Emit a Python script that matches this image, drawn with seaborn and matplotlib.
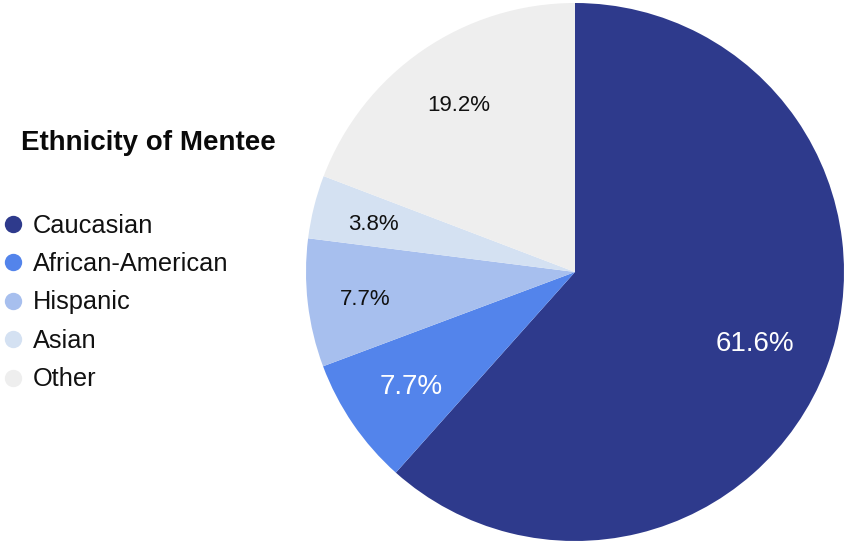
import numpy as np
import matplotlib
matplotlib.use("Agg")
import matplotlib.pyplot as plt
from matplotlib.lines import Line2D
import seaborn as sns

# Mentee ethnicity breakdown (percent)
categories = ["Caucasian", "African-American", "Hispanic", "Asian", "Other"]
shares = [61.6, 7.7, 7.7, 3.8, 19.2]
colors = ["#2E3A8C", "#5384EB", "#A7BFEE", "#D4E1F2", "#EEEEEE"]
label_colors = ["white", "white", "#111111", "#111111", "#111111"]
label_sizes = [20, 20, 16, 16, 16]
label_radius = [0.715, 0.739, 0.786, 0.773, 0.761]
title = "Ethnicity of Mentee"

sns.set_theme(style="white")
plt.rcParams["font.family"] = ["Liberation Sans", "DejaVu Sans"]

W, H = 846, 548
fig = plt.figure(figsize=(W / 100, H / 100), dpi=100)
fig.patch.set_facecolor("white")

# pie placed by pixel geometry: centre (575, 272), radius 269
cx, cy, R = 575, 272, 269
ax = fig.add_axes([(cx - R) / W, (H - cy - R) / H, 2 * R / W, 2 * R / H])
wedges, _ = ax.pie(shares, colors=colors, startangle=90, counterclock=False,
                   radius=1.0, wedgeprops=dict(linewidth=0))
ax.set_xlim(-1, 1)
ax.set_ylim(-1, 1)
ax.set_aspect("equal")
ax.axis("off")

# percentage labels at each wedge's mid-angle
for w, val, col, fs, rr in zip(wedges, shares, label_colors, label_sizes, label_radius):
    mid = np.deg2rad((w.theta1 + w.theta2) / 2)
    ax.text(rr * np.cos(mid), rr * np.sin(mid), f"{val:.1f}%",
            ha="center", va="center_baseline", color=col, fontsize=fs)

fig.text(20.5 / W, (H - 150) / H, title, fontsize=20, fontweight="bold",
         color="#0A0A0A", ha="left", va="baseline")

handles = [Line2D([], [], linestyle="none", marker="o", markersize=12.5,
                  markerfacecolor=c, markeredgewidth=0) for c in colors]
fig.legend(handles, categories, loc="center left",
           bbox_to_anchor=(4.0 / W, (H - 302.5) / H),
           frameon=False, fontsize=18.3, labelcolor="#111111",
           handlelength=0.7, handletextpad=0.45, labelspacing=0.57,
           borderpad=0, borderaxespad=0)

fig.savefig("out.png", dpi=100, facecolor="white")
